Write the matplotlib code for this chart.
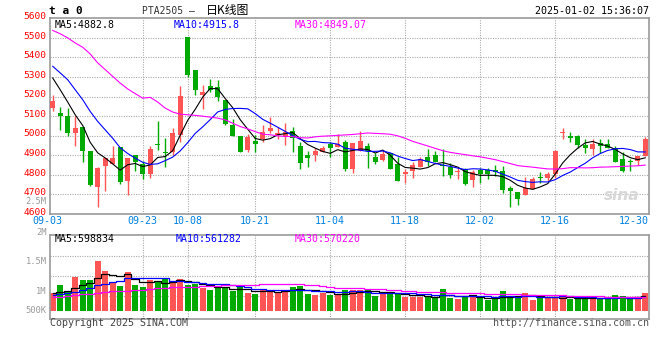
import matplotlib
matplotlib.use("agg")
import matplotlib.pyplot as plt
import pandas as pd

plt.rcParams['font.family'] = ['DejaVu Sans Mono', 'Noto Sans CJK SC']

# trading days shown on the chart
dates = ['09-03', '09-04', '09-05', '09-06', '09-09', '09-10', '09-11', '09-12', '09-13',
         '09-18', '09-19', '09-20', '09-23', '09-24', '09-25', '09-26', '09-27', '09-30',
         '10-08', '10-09', '10-10', '10-11', '10-14', '10-15', '10-16', '10-17', '10-18',
         '10-21', '10-22', '10-23', '10-24', '10-25', '10-28', '10-29', '10-30', '10-31',
         '11-01', '11-04', '11-05', '11-06', '11-07', '11-08', '11-11', '11-12', '11-13',
         '11-14', '11-15', '11-18', '11-19', '11-20', '11-21', '11-22', '11-25', '11-26',
         '11-27', '11-28', '11-29', '12-02', '12-03', '12-04', '12-05', '12-06', '12-09',
         '12-10', '12-11', '12-12', '12-13', '12-16', '12-17', '12-18', '12-19', '12-20',
         '12-23', '12-24', '12-25', '12-26', '12-27', '12-30', '12-31', '01-02']
tick_dates = ['09-03', '09-23', '10-08', '10-21', '11-04', '11-18', '12-02', '12-16', '12-30']

opens = [5144, 5117, 5102, 5016, 5047, 4924, 4740, 4847, 4856, 4941,
         4770, 4900, 4856, 4804, 4958, 4919, 4916, 5004, 5505, 5338,
         5209, 5256, 5250, 5184, 5056, 4999, 4927, 4975, 4984, 5025,
         5004, 4992, 5025, 4948, 4900, 4900, 4916, 4958, 4941, 4967,
         4830, 4924, 4948, 4890, 4876, 4910, 4856, 4804, 4822, 4842,
         4893, 4900, 4850, 4842, 4813, 4830, 4774, 4825, 4825, 4823,
         4820, 4734, 4710, 4697, 4728, 4787, 4786, 4804, 5013, 4999,
         4999, 4953, 4933, 4962, 4958, 4939, 4881, 4868, 4873, 4898]
highs = [5209, 5148, 5141, 5102, 5047, 4924, 4842, 4888, 4948, 4941,
         4886, 4900, 4871, 4948, 5076, 4987, 5042, 5256, 5505, 5338,
         5261, 5290, 5286, 5184, 5085, 4999, 5010, 5004, 5056, 5098,
         5047, 5064, 5047, 4970, 4924, 4939, 4950, 4970, 5010, 4979,
         4962, 5025, 4965, 4914, 4927, 4910, 4890, 4830, 4868, 4893,
         4931, 4924, 4931, 4859, 4837, 4833, 4825, 4833, 4833, 4851,
         4845, 4745, 4710, 4791, 4791, 4813, 4816, 4927, 5039, 5021,
         5004, 4982, 4984, 4984, 4984, 4945, 4916, 4881, 4898, 4996]
lows = [5124, 5030, 5001, 4945, 4868, 4745, 4637, 4719, 4856, 4751,
        4695, 4822, 4777, 4782, 4925, 4842, 4902, 4970, 5298, 5209,
        5138, 5223, 5175, 5056, 5001, 4916, 4919, 4919, 4970, 5013,
        4984, 4953, 4919, 4830, 4842, 4873, 4916, 4893, 4941, 4822,
        4811, 4924, 4837, 4856, 4873, 4830, 4770, 4760, 4786, 4842,
        4847, 4868, 4795, 4782, 4779, 4748, 4740, 4760, 4779, 4796,
        4709, 4637, 4645, 4697, 4728, 4757, 4770, 4782, 4984, 4970,
        4936, 4914, 4900, 4914, 4936, 4864, 4816, 4822, 4851, 4898]
closes = [5179, 5103, 5016, 5040, 4924, 4748, 4835, 4885, 4888, 4765,
          4886, 4868, 4804, 4931, 4955, 4910, 5016, 5201, 5312, 5235,
          5223, 5235, 5196, 5061, 5001, 4916, 4994, 4958, 5018, 5039,
          5016, 5021, 4987, 4863, 4888, 4924, 4936, 4939, 4957, 4830,
          4962, 4974, 4924, 4868, 4905, 4830, 4770, 4816, 4851, 4881,
          4868, 4868, 4845, 4799, 4818, 4753, 4813, 4804, 4803, 4813,
          4722, 4719, 4676, 4734, 4779, 4784, 4803, 4922, 5018, 4986,
          4953, 4939, 4957, 4950, 4936, 4868, 4822, 4864, 4898, 4984]
# volume, thousands of lots
volume = [713, 1054, 779, 1394, 1259, 1259, 2038, 1628, 1189, 1013,
          1599, 1054, 984, 1259, 1189, 1287, 1164, 1300, 1054, 1082,
          943, 849, 984, 918, 820, 959, 713, 685, 890, 849,
          713, 849, 984, 1025, 685, 644, 738, 644, 644, 849,
          849, 849, 849, 615, 713, 713, 713, 574, 574, 574,
          615, 533, 890, 533, 480, 615, 615, 533, 439, 480,
          808, 615, 574, 713, 439, 574, 508, 574, 574, 480,
          480, 533, 603, 480, 480, 644, 603, 480, 574, 713]

# moving-average values before a full window exists
ma5_head = [5295, 5235, 5172, 5107]
ma10_head = [5355, 5321, 5286, 5235, 5184, 5124, 5073, 5030, 4987]
ma30_head = [5538, 5521, 5500, 5474, 5452, 5418, 5372, 5338, 5303, 5269,
             5239, 5215, 5192, 5196, 5172, 5141, 5121, 5110, 5107, 5104,
             5100, 5095, 5090, 5081, 5064, 5047, 5035, 5021, 5008]
vma5_head = [713, 779, 820, 943]
vma10_head = [644, 672, 713, 779, 849, 943, 1054, 1107, 1164]
vma30_head = [549, 574, 603, 631, 672, 697, 738, 767, 795, 808,
              820, 836, 861, 902, 918, 943, 959, 972, 984, 990,
              1000, 1013, 1025, 1037, 1046, 1054, 1066, 1074, 1082]

price_ticks = [4600, 4700, 4800, 4900, 5000, 5100, 5200, 5300, 5400, 5500, 5600]
vol_labels = ['2.5M', '2M', '1.5M', '1M', '500K']

W, H = 660, 360
RED = '#ff5555'
GREEN = '#00aa00'
GRID = '#aaaaaa'
BORDER = '#999999'


def box(x0, y0, x1, y1):
    return [x0 / W, 1 - y1 / H, (x1 - x0) / W, (y1 - y0) / H]


def ftext(x, y, s, **kw):
    fig.text(x / W, 1 - y / H, s, **kw)


def with_head(series, win, head):
    m = pd.Series(series, dtype=float).rolling(win).mean()
    m.iloc[:len(head)] = head
    return m


fig = plt.figure(figsize=(6.6, 3.6), dpi=100, facecolor='white')
ax = fig.add_axes(box(50, 18.3, 649, 214))
axv = fig.add_axes(box(50, 234.7, 649, 319))

n = len(closes)
x = list(range(n))
colors = [RED if c >= o else GREEN for o, c in zip(opens, closes)]
tick_idx = [dates.index(d) for d in tick_dates]

for a in (ax, axv):
    a.set_xlim(-0.36, n - 0.5)
    a.set_xticks([])
    a.set_yticks([])
    for sp in a.spines.values():
        sp.set_color(BORDER)
        sp.set_linewidth(1.2)
    for i in tick_idx[1:-1]:
        a.axvline(i, color=GRID, lw=0.8, ls=(0, (1, 1.2)), zorder=0)

# price panel
ax.set_ylim(4600, 5600)
for v in price_ticks[1:-1]:
    ax.axhline(v, color=GRID, lw=0.8, ls=(0, (1, 1.2)), zorder=0)

ax.vlines(x, lows, highs, colors=colors, linewidth=1, zorder=2)
bottoms = [min(o, c) for o, c in zip(opens, closes)]
bodies = [max(abs(c - o), 5) for o, c in zip(opens, closes)]
ax.bar(x, bodies, bottom=bottoms, width=0.62, color=colors, linewidth=0, zorder=3)

ax.plot(x, with_head(closes, 5, ma5_head), color='black', lw=0.8, zorder=4)
ax.plot(x, with_head(closes, 10, ma10_head), color='#0000ff', lw=0.8, zorder=4)
ax.plot(x, with_head(closes, 30, ma30_head), color='#ff00ff', lw=0.8, zorder=4)

for v in price_ticks:
    ax.text(-0.006, v + 9, str(v), transform=ax.get_yaxis_transform(),
            ha='right', va='center', color='#ff0000', fontsize=6.8)

ax.text(0.007, 0.965, 'MA5:4882.8', transform=ax.transAxes, color='black',
        fontsize=7.1, va='center')
ax.text(0.207, 0.965, 'MA10:4915.8', transform=ax.transAxes, color='#0000ff',
        fontsize=7.1, va='center')
ax.text(0.409, 0.965, 'MA30:4849.07', transform=ax.transAxes, color='#ff00ff',
        fontsize=7.1, va='center')
ax.text(0.955, 0.07, 'sina', transform=ax.transAxes, color='#d8d8d8',
        fontsize=11, fontweight='bold', style='italic', ha='center',
        family='DejaVu Sans', zorder=1)

for d, i in zip(tick_dates, tick_idx):
    xi = i
    if i == tick_idx[0]:
        xi = i - 0.7
    elif i == tick_idx[-1]:
        xi = i + 0.5
    ax.text(xi, -0.008, d, transform=ax.get_xaxis_transform(), ha='center',
            va='top', color='#0080e0', fontsize=7.2)

# volume panel
axv.set_ylim(-340 * 1000, 3116 * 1000)
for f in (0.273, 0.51, 0.747):
    axv.plot([0, 1], [f, f], transform=axv.transAxes, color=GRID, lw=0.8,
             ls=(0, (1, 1.2)), zorder=0)
vol = [v * 1000 for v in volume]
axv.bar(x, vol, width=0.8, color=colors, linewidth=0, zorder=2)
axv.plot(x, with_head(vol, 5, [v * 1000 for v in vma5_head]), color='black',
         lw=0.9, drawstyle='steps-mid', zorder=3)
axv.plot(x, with_head(vol, 10, [v * 1000 for v in vma10_head]), color='#0000ff',
         lw=0.9, drawstyle='steps-mid', zorder=3)
axv.plot(x, with_head(vol, 30, [v * 1000 for v in vma30_head]), color='#ff00ff',
         lw=0.9, drawstyle='steps-mid', zorder=3)

axv.text(0.007, 0.95, 'MA5:598834', transform=axv.transAxes, color='black',
         fontsize=7.1, va='center')
axv.text(0.209, 0.95, 'MA10:561282', transform=axv.transAxes, color='#0000ff',
         fontsize=7.1, va='center')
axv.text(0.409, 0.95, 'MA30:570220', transform=axv.transAxes, color='#ff00ff',
         fontsize=7.1, va='center')

for lab, y in zip(vol_labels, [201, 232.5, 261, 291, 310.5]):
    ftext(46.5, y, lab, ha='right', va='center', color='#999999', fontsize=6.3)

# header and footer
ftext(49, 11.5, 't a 0', ha='left', va='center', color='black', fontsize=8,
      fontweight='bold')
ftext(142, 10.8, 'PTA2505 –', ha='left', va='center', color='#333333', fontsize=7)
ftext(206, 10.5, '日K线图', ha='left', va='center', color='black', fontsize=8.6,
      family=['Noto Sans CJK SC', 'DejaVu Sans'])
ftext(649, 11.2, '2025-01-02 15:36:07', ha='right', va='center', color='black',
      fontsize=7.2)
ftext(50, 323.5, 'Copyright 2025 SINA.COM', ha='left', va='center',
      color='#444444', fontsize=7.2)
ftext(649, 323.5, 'http://finance.sina.com.cn', ha='right', va='center',
      color='#555555', fontsize=7.2)

fig.savefig('out.png', dpi=100, facecolor='white')
